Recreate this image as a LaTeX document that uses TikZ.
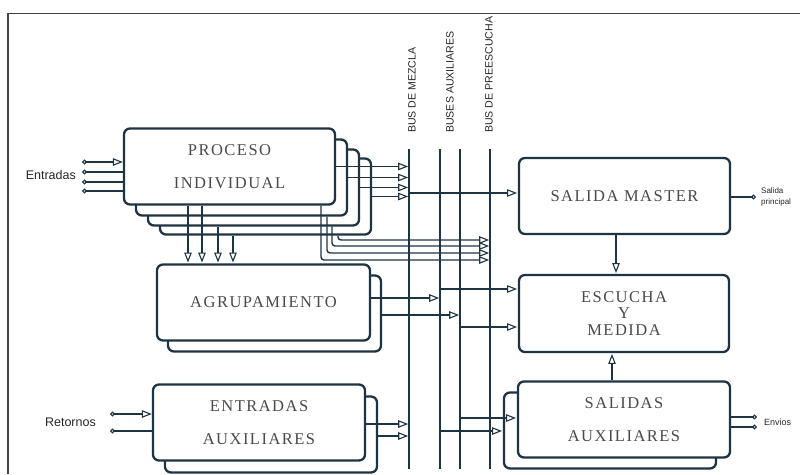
\documentclass[tikz,border=0pt]{standalone}
\usepackage{fontspec}
\usetikzlibrary{arrows.meta,calc}
\newfontfamily\boxfont[LetterSpace=9]{Liberation Serif}
\newfontfamily\labfont{Liberation Sans}
\definecolor{lc}{HTML}{1F3442}
\definecolor{tc}{HTML}{4A4A4A}
\definecolor{fc}{HTML}{454545}
\begin{document}
\begin{tikzpicture}[x=1pt,y=-1pt,
  blk/.style={draw=lc, line width=2.3pt, rounded corners=6pt, fill=white, minimum width=211pt, minimum height=76pt, inner sep=0pt, align=center, text=tc, font=\boxfont\fontsize{16.5}{33}\selectfont},
  busline/.style={draw=lc, line width=2.9pt},
  con/.style={draw=lc, line width=1.4pt},
  arr/.style={con, shorten >=0.8pt, -{Triangle[open, length=10pt, width=7.5pt, line width=1.1pt]}},
  src/.style={con, {Circle[open, length=4.8pt, width=4.8pt, line width=1.1pt]}-},
  srcarr/.style={con, {Circle[open,length=4.8pt,width=4.8pt,line width=1.1pt]}-{Triangle[open, length=10pt, width=7.5pt, line width=1.1pt]}},
  snk/.style={con, -{Circle[open, length=4.8pt, width=4.8pt, line width=1.1pt]}},
  buslab/.style={rotate=90, anchor=west, inner sep=0pt, font=\labfont\fontsize{10.6}{13}\selectfont, text=black!85},
  sidelab/.style={inner sep=0pt, font=\labfont\fontsize{12.5}{15}\selectfont, text=black!85},
  tinylab/.style={inner sep=0pt, font=\labfont\fontsize{8}{11}\selectfont, text=black!85, align=left}
]
\useasboundingbox (0,0) rectangle (800,474);
\draw[draw=fc, line width=1.8pt] (8,474) -- (8,13.5) -- (800,13.5);

% Proceso individual stack
\node[blk] (p4) at (265.5,196.5) {};
\node[blk] (p3) at (253.5,187.5) {};
\node[blk] (p2) at (241.5,177.5) {};
\node[blk] (p1) at (229.5,166.5) {PROCESO\\INDIVIDUAL};

% Agrupamiento stack
\node[blk, minimum width=213pt] (a2) at (274.5,313.5) {};
\node[blk, minimum width=213pt] (a1) at (263.5,302.5) {AGRUPAMIENTO};

% Entradas auxiliares stack
\node[blk, minimum width=212pt] (x2) at (271,434.5) {};
\node[blk, minimum width=212pt] (x1) at (259,422.5) {ENTRADAS\\AUXILIARES};

% Right column
\node[blk] (sm) at (624.5,196) {SALIDA MASTER};
\node[blk, minimum width=210pt, minimum height=77pt, font=\boxfont\fontsize{16.5}{16.5}\selectfont] (es) at (624,313.5) {ESCUCHA\\Y\\MEDIDA};
\node[blk, minimum width=212pt] (s2) at (610,430.5) {};
\node[blk, minimum width=212pt] (s1) at (624,419.5) {SALIDAS\\AUXILIARES};

% Buses
\coordinate (mezT) at (409,149); \coordinate (mezB) at (409,469);
\coordinate (auxAT) at (440,149); \coordinate (auxAB) at (440,469);
\coordinate (auxBT) at (460,149); \coordinate (auxBB) at (460,469);
\coordinate (preT) at (490,149); \coordinate (preB) at (490,469);
\draw[busline] (mezT) -- (mezB);
\draw[busline] (auxAT) -- (auxAB);
\draw[busline] (auxBT) -- (auxBB);
\draw[busline] (preT) -- (preB);

\node[buslab] (lmez) at (412,133) {BUS DE MEZCLA};
\node[buslab] (laux) at (450,133) {BUSES AUXILIARES};
\node[buslab] (lpre) at (489,133) {BUS DE PREESCUCHA};

% Entradas
\node[sidelab, anchor=east] (lent) at (76,175) {Entradas};
\coordinate (in1) at (82,162); \coordinate (in2) at (82,172);
\coordinate (in3) at (82,182); \coordinate (in4) at (82,191);
\draw[srcarr] (in1) -- (in1 -| p1.west);
\draw[src] (in2) -- (in2 -| p1.west);
\draw[src] (in3) -- (in3 -| p1.west);
\draw[src] (in4) -- (in4 -| p1.west);

% Proceso -> bus de mezcla
\draw[arr] (p1.east) -- (p1.east -| mezT);
\draw[arr] (p2.east) -- (p2.east -| mezT);
\draw[arr] (p3.east) -- (p3.east -| mezT);
\draw[arr] (p4.east) -- (p4.east -| mezT);

% Proceso -> agrupamiento
\coordinate (xd1) at (188,0); \coordinate (xd2) at (202,0);
\coordinate (xd3) at (218,0); \coordinate (xd4) at (233,0);
\draw[arr] (p1.south -| xd1) -- (a1.north -| xd1);
\draw[arr] (p1.south -| xd2) -- (a1.north -| xd2);
\draw[arr] (p3.south -| xd3) -- (a1.north -| xd3);
\draw[arr] (p4.south -| xd4) -- (a1.north -| xd4);

% Proceso -> bus de preescucha
\coordinate (xl1) at (321,260); \coordinate (xl2) at (327,253);
\coordinate (xl3) at (332,246); \coordinate (xl4) at (338,240);
\draw[arr, rounded corners=3pt] (p1.south -| xl1) |- (preT |- xl1);
\draw[arr, rounded corners=3pt] (p2.south -| xl2) |- (preT |- xl2);
\draw[arr, rounded corners=3pt] (p3.south -| xl3) |- (preT |- xl3);
\draw[arr, rounded corners=3pt] (p4.south -| xl4) |- (preT |- xl4);

% Agrupamiento -> buses auxiliares
\coordinate (y298) at (0,298); \coordinate (y315) at (0,315);
\draw[arr] (a1.east |- y298) -- (auxAT |- y298);
\draw[arr] (a2.east |- y315) -- (auxBT |- y315);

% Retornos -> Entradas auxiliares
\node[sidelab, anchor=east] (lret) at (96,422) {Retornos};
\coordinate (r1) at (110,414); \coordinate (r2) at (110,431);
\draw[srcarr] (r1) -- (r1 -| x1.west);
\draw[src] (r2) -- (r2 -| x1.west);

% Entradas auxiliares -> bus de mezcla
\coordinate (y424) at (0,424); \coordinate (y436) at (0,436);
\draw[arr] (x1.east |- y424) -- (mezT |- y424);
\draw[arr] (x2.east |- y436) -- (mezT |- y436);

% Bus de mezcla -> Salida master
\coordinate (y193) at (0,193);
\draw[arr] (mezT |- y193) -- (sm.west |- y193);

% Buses auxiliares -> Escucha
\coordinate (y289) at (0,289); \coordinate (y327) at (0,327);
\draw[arr] (auxAT |- y289) -- (es.west |- y289);
\draw[arr] (auxBT |- y327) -- (es.west |- y327);

% Buses auxiliares -> Salidas auxiliares
\coordinate (y418) at (0,418); \coordinate (y431) at (0,431);
\draw[arr] (auxBT |- y418) -- (s1.west |- y418);
\draw[arr] (auxAT |- y431) -- (s2.west |- y431);

% vertical links
\coordinate (xsm) at (616,0); \coordinate (xsa) at (612,0);
\draw[arr] (sm.south -| xsm) -- (es.north -| xsm);
\draw[arr] (s1.north -| xsa) -- (es.south -| xsa);

% outputs
\coordinate (o1) at (756,197);
\draw[snk] (sm.east |- o1) -- (o1);
\node[tinylab, anchor=west] (lsal) at (761,197) {Salida\\principal};
\coordinate (o2) at (757,417); \coordinate (o3) at (757,427);
\draw[snk] (s1.east |- o2) -- (o2);
\draw[snk] (s1.east |- o3) -- (o3);
\node[sidelab, anchor=west, font=\labfont\fontsize{9}{11}\selectfont] (lenv) at (764,422) {Envios};
\end{tikzpicture}
\end{document}
